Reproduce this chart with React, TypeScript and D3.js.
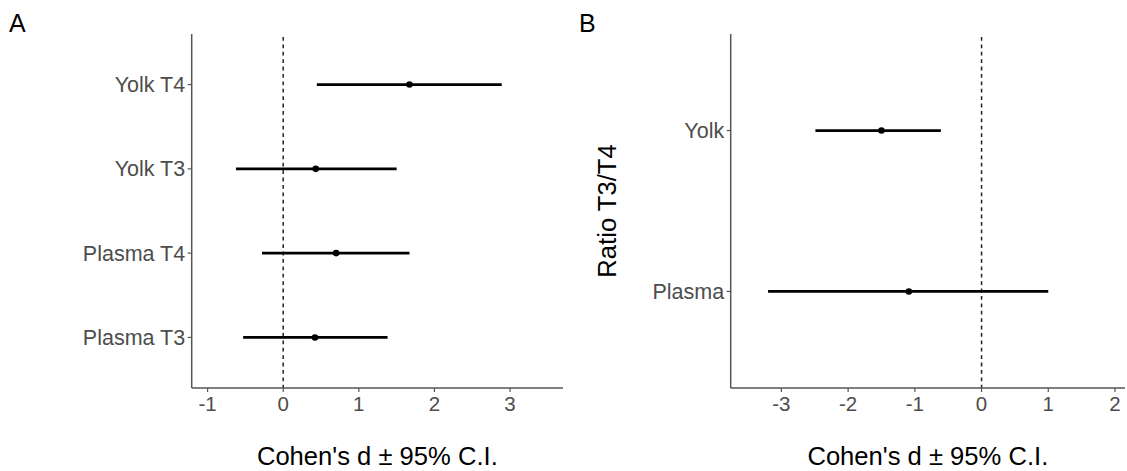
import * as d3 from 'd3';

// Panel A: Cohen's d per hormone measure
const aCategories = ['Yolk T4', 'Yolk T3', 'Plasma T4', 'Plasma T3'];
const aEstimate = [1.67, 0.43, 0.7, 0.42];
const aLower = [0.445, -0.625, -0.28, -0.53];
const aUpper = [2.89, 1.5, 1.67, 1.38];
const aTicks = [-1, 0, 1, 2, 3];

// Panel B: ratio T3/T4
const bCategories = ['Yolk', 'Plasma'];
const bEstimate = [-1.5, -1.09];
const bLower = [-2.49, -3.2];
const bUpper = [-0.61, 1.0];
const bTicks = [-3, -2, -1, 0, 1, 2];

const FONT = "'Liberation Sans', Arial, Helvetica, sans-serif";
const AXIS_COL = '#555';
const TEXT_COL = '#4d4d4d';

type PanelProps = {
  letter: string;
  letterX: number;
  categories: string[];
  est: number[];
  lo: number[];
  hi: number[];
  ticks: number[];
  domain: [number, number];
  range: [number, number];
  yTitle?: string;
  yTitleX?: number;
};

const TOP = 34;
const BOTTOM = 388;

const Panel = ({ letter, letterX, categories, est, lo, hi, ticks, domain, range, yTitle, yTitleX }: PanelProps) => {
  const x = d3.scaleLinear().domain(domain).range(range);
  const y = d3.scalePoint<string>().domain(categories).range([TOP, BOTTOM]).padding(0.6);
  const left = range[0];
  const mid = (range[0] + range[1]) / 2;

  return (
    <g fontFamily={FONT}>
      <text x={letterX} y={31.5} fontSize={25} fill="#000">{letter}</text>

      {/* zero reference */}
      <line x1={x(0)} x2={x(0)} y1={TOP + 3} y2={BOTTOM} stroke="#222" strokeWidth={1.5} strokeDasharray="3.8,3.6" />

      {/* error bars */}
      {categories.map((c, i) => (
        <g key={c}>
          <line x1={x(lo[i])} x2={x(hi[i])} y1={y(c)} y2={y(c)} stroke="#000" strokeWidth={2.7} />
          <circle cx={x(est[i])} cy={y(c)} r={3.3} fill="#000" />
        </g>
      ))}

      {/* axes */}
      <line x1={left} x2={left} y1={TOP} y2={BOTTOM} stroke={AXIS_COL} strokeWidth={1.5} />
      <line x1={left} x2={range[1]} y1={BOTTOM} y2={BOTTOM} stroke={AXIS_COL} strokeWidth={1.5} />

      {categories.map((c) => (
        <g key={'yt' + c}>
          <line x1={left - 4} x2={left} y1={y(c)} y2={y(c)} stroke={AXIS_COL} strokeWidth={1.2} />
          <text x={left - 6.5} y={y(c)} dy="0.35em" textAnchor="end" fontSize={21.5} fill={TEXT_COL}>{c}</text>
        </g>
      ))}

      {ticks.map((t) => (
        <g key={'xt' + t}>
          <line x1={x(t)} x2={x(t)} y1={BOTTOM} y2={BOTTOM + 4} stroke={AXIS_COL} strokeWidth={1.2} />
          <text x={x(t)} y={410.5} textAnchor="middle" fontSize={20.5} fill={TEXT_COL}>{t}</text>
        </g>
      ))}

      <text x={mid} y={465} textAnchor="middle" fontSize={25.6} fill="#000">Cohen's d ± 95% C.I.</text>

      {yTitle && (
        <text transform={`translate(${yTitleX},${(TOP + BOTTOM) / 2}) rotate(-90)`} textAnchor="middle" fontSize={25.6} fill="#000">
          {yTitle}
        </text>
      )}
    </g>
  );
};

export default function App() {
  return (
    <svg
      width={1127}
      height={471}
      style={{ position: 'absolute', left: 0, top: 0, background: '#fff' }}
    >
      <rect width={1127} height={471} fill="#fff" />
      <Panel
        letter="A"
        letterX={9}
        categories={aCategories}
        est={aEstimate}
        lo={aLower}
        hi={aUpper}
        ticks={aTicks}
        domain={[-1.21, 3.7]}
        range={[191.7, 563]}
      />
      <Panel
        letter="B"
        letterX={579}
        categories={bCategories}
        est={bEstimate}
        lo={bLower}
        hi={bUpper}
        ticks={bTicks}
        domain={[-3.76, 2.15]}
        range={[730.7, 1125]}
        yTitle="Ratio T3/T4"
        yTitleX={616}
      />
    </svg>
  );
}
